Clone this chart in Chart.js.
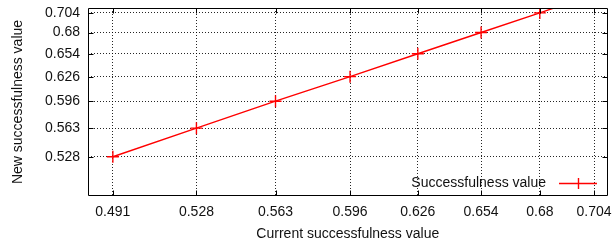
<!DOCTYPE html>
<html>
<head>
<meta charset="utf-8">
<script src="https://cdn.jsdelivr.net/npm/chart.js@4/dist/chart.umd.min.js"></script>
<style>
html,body{margin:0;padding:0;background:#fff;}
canvas{display:block;}
</style>
</head>
<body>
<canvas id="c" width="615" height="245"></canvas>
<script>
const seriesLabel = "Successfulness value";
const xTitle = "Current successfulness value";
const yTitle = "New successfulness value";
const xTicks = [0.491, 0.528, 0.563, 0.596, 0.626, 0.654, 0.68, 0.704];
const yTicks = [0.528, 0.563, 0.596, 0.626, 0.654, 0.68, 0.704];
const currentVals = [0.491, 0.528, 0.563, 0.596, 0.626, 0.654, 0.68, 0.704];
const newVals = [0.528, 0.563, 0.596, 0.626, 0.654, 0.68, 0.704, 0.727];
const axisMin = 0.48, axisMax = 0.71;

const FONT = "'Liberation Sans', Arial, sans-serif";
const FS = 14;
const TXT = "#111";
const RED = "#ff0000";
const LW = 1.4;

const points = currentVals.map((x, i) => ({x: x, y: newVals[i]}));

const framePlugin = {
  id: 'frame',
  afterDatasetsDraw(chart) {
    const ctx = chart.ctx, a = chart.chartArea;
    const xs = chart.scales.x, ys = chart.scales.y;
    ctx.save();
    ctx.strokeStyle = '#000';
    ctx.lineWidth = 1;
    ctx.setLineDash([]);
    ctx.beginPath();
    const L = Math.round(a.left) + 0.5, R = Math.round(a.right) - 0.5;
    const T = Math.round(a.top) + 0.5, B = Math.round(a.bottom) - 0.5;
    ctx.rect(L, T, R - L, B - T);
    const tl = 5;
    xTicks.forEach(v => {
      const px = Math.round(xs.getPixelForValue(v)) + 0.5;
      ctx.moveTo(px, B); ctx.lineTo(px, B - tl);
      ctx.moveTo(px, T); ctx.lineTo(px, T + tl);
    });
    yTicks.forEach(v => {
      const py = Math.round(ys.getPixelForValue(v)) + 0.5;
      ctx.moveTo(L, py); ctx.lineTo(L + tl, py);
      ctx.moveTo(R, py); ctx.lineTo(R - tl, py);
    });
    ctx.stroke();

    // legend (gnuplot style, inside bottom-right)
    const ly = 183;
    ctx.font = FS + "px " + FONT;
    ctx.fillStyle = TXT;
    ctx.textAlign = 'right';
    ctx.textBaseline = 'middle';
    ctx.fillText(chart.data.datasets[0].label, 546, ly);
    ctx.strokeStyle = RED;
    ctx.lineWidth = LW;
    ctx.beginPath();
    ctx.moveTo(559, ly + 0.5); ctx.lineTo(597, ly + 0.5);
    ctx.moveTo(578.5, ly - 5); ctx.lineTo(578.5, ly + 6);
    ctx.stroke();
    ctx.restore();
  }
};

new Chart(document.getElementById('c'), {
  type: 'scatter',
  data: {
    datasets: [{
      label: seriesLabel,
      data: points,
      showLine: true,
      borderColor: RED,
      backgroundColor: RED,
      borderWidth: LW,
      pointStyle: 'cross',
      pointRadius: 6,
      pointBorderWidth: LW,
      pointBorderColor: RED,
      tension: 0
    }]
  },
  options: {
    responsive: false,
    devicePixelRatio: 1,
    animation: false,
    layout: {padding: {top: 8, right: 3, left: 0, bottom: 0}},
    plugins: {legend: {display: false}, tooltip: {enabled: false}},
    scales: {
      x: {
        type: 'linear',
        min: axisMin, max: axisMax,
        afterBuildTicks: s => { s.ticks = xTicks.map(v => ({value: v})); },
        afterFit: s => { s.height = 49; s.paddingLeft = 0; s.paddingRight = 0; },
        ticks: {
          callback: v => String(v),
          font: {family: FONT, size: FS},
          color: TXT,
          padding: 8,
          maxRotation: 0,
          autoSkip: false
        },
        grid: {color: 'rgba(0,0,0,0.85)', lineWidth: 1, drawTicks: false},
        border: {display: false, dash: [1, 2]},
        title: {display: true, text: xTitle, font: {family: FONT, size: FS}, color: TXT, padding: {top: 0, bottom: 2}}
      },
      y: {
        type: 'linear',
        min: axisMin, max: axisMax,
        afterBuildTicks: s => { s.ticks = yTicks.map(v => ({value: v})); },
        afterFit: s => { s.width = 88; s.paddingTop = 0; s.paddingBottom = 0; },
        ticks: {
          callback: v => String(v),
          font: {family: FONT, size: FS},
          color: TXT,
          padding: 8,
          autoSkip: false
        },
        grid: {color: 'rgba(0,0,0,0.85)', lineWidth: 1, drawTicks: false},
        border: {display: false, dash: [1, 2]},
        title: {display: true, text: yTitle, font: {family: FONT, size: FS}, color: TXT, padding: {top: 10, bottom: 0}}
      }
    }
  },
  plugins: [framePlugin]
});
</script>
</body>
</html>
